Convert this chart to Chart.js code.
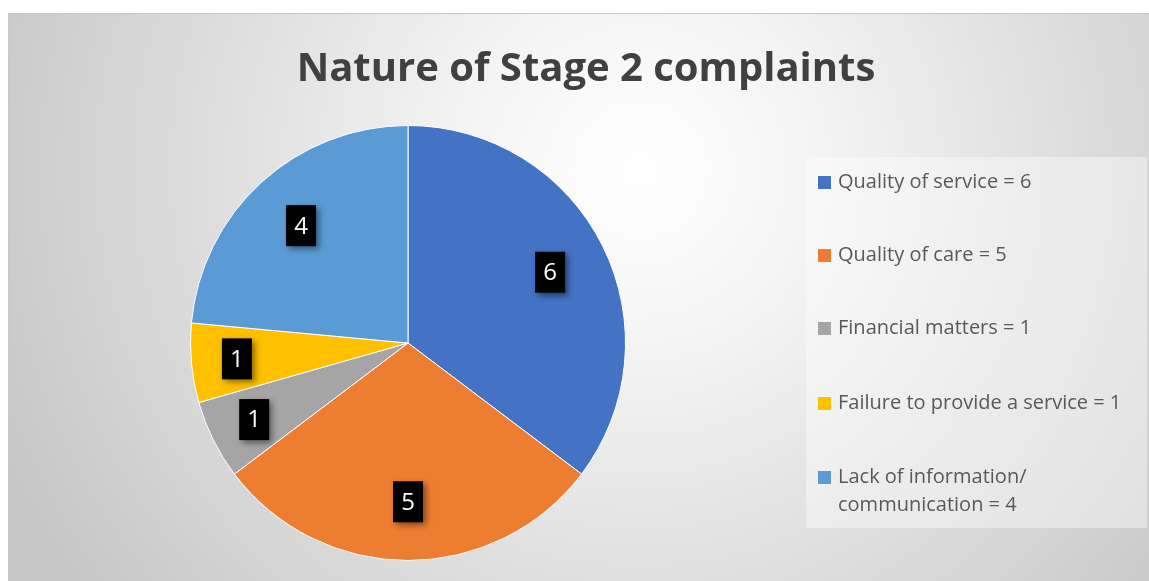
<!DOCTYPE html>
<html>
<head>
<meta charset="utf-8">
<script src="https://cdn.jsdelivr.net/npm/chart.js@4"></script>
<style>
html,body{margin:0;padding:0;background:#fff;}
#wrap{position:relative;width:1149px;height:581px;}
</style>
</head>
<body>
<div id="wrap"><canvas id="c" width="1149" height="581"></canvas></div>
<script>
const titleText = 'Nature of Stage 2 complaints';
const categories = ['Quality of service', 'Quality of care', 'Financial matters', 'Failure to provide a service', 'Lack of information/ communication'];
const legendLines = [['Quality of service = 6'], ['Quality of care = 5'], ['Financial matters = 1'], ['Failure to provide a service = 1'], ['Lack of information/', 'communication = 4']];
const values = [6, 5, 1, 1, 4];
const colors = ['#4472C4', '#ED7D31', '#A5A5A5', '#FFC000', '#5B9BD5'];

const FONT = '"Open Sans", Lato, sans-serif';

const bgPlugin = {
  id: 'bg',
  beforeDraw(chart) {
    const ctx = chart.ctx;
    ctx.save();
    ctx.fillStyle = '#ffffff';
    ctx.fillRect(0, 0, chart.width, chart.height);
    const g = ctx.createRadialGradient(640, 170, 0, 640, 170, 700);
    g.addColorStop(0, '#ffffff');
    g.addColorStop(0.25, '#f4f4f4');
    g.addColorStop(1, '#c6c6c6');
    ctx.fillStyle = g;
    ctx.fillRect(8, 13, chart.width - 8, chart.height - 13);
    ctx.strokeStyle = '#c8c8c8';
    ctx.lineWidth = 1;
    ctx.strokeRect(8.5, 13.5, chart.width, chart.height);
    // title
    ctx.fillStyle = '#404040';
    ctx.font = 'bold 40px ' + FONT;
    ctx.textAlign = 'center';
    ctx.textBaseline = 'alphabetic';
    ctx.fillText(titleText, 586, 81);
    // legend box
    ctx.fillStyle = 'rgba(255,255,255,0.4)';
    ctx.fillRect(806, 157, 341, 371);
    const ys = [182, 255, 328, 403, 477];
    ctx.font = '20px ' + FONT;
    ctx.textAlign = 'left';
    ctx.textBaseline = 'middle';
    legendLines.forEach((lines, i) => {
      ctx.fillStyle = colors[i];
      ctx.fillRect(818, ys[i] - 6, 13, 13);
      ctx.fillStyle = '#595959';
      lines.forEach((t, j) => ctx.fillText(t, 838, ys[i] + j * 28));
    });
    ctx.restore();
  }
};

const labelPlugin = {
  id: 'boxlabels',
  afterDatasetsDraw(chart) {
    const ctx = chart.ctx;
    const meta = chart.getDatasetMeta(0);
    meta.data.forEach((arc, i) => {
      const p = arc.getProps(['x', 'y', 'startAngle', 'endAngle', 'outerRadius'], true);
      const mid = (p.startAngle + p.endAngle) / 2;
      const frac = values[i] <= 1 ? 0.79 : 0.73;
      const cx = p.x + Math.cos(mid) * p.outerRadius * frac;
      const cy = p.y + Math.sin(mid) * p.outerRadius * frac;
      const w = 30, h = 41;
      ctx.save();
      ctx.shadowColor = 'rgba(0,0,0,0.45)';
      ctx.shadowBlur = 6;
      ctx.shadowOffsetX = 3;
      ctx.shadowOffsetY = 3;
      ctx.fillStyle = '#000';
      ctx.fillRect(cx - w / 2, cy - h / 2, w, h);
      ctx.restore();
      ctx.save();
      ctx.fillStyle = '#fff';
      ctx.font = '24px ' + FONT;
      ctx.textAlign = 'center';
      ctx.textBaseline = 'middle';
      ctx.fillText(String(values[i]), cx, cy + 1);
      ctx.restore();
    });
  }
};

new Chart(document.getElementById('c'), {
  type: 'pie',
  data: {
    labels: categories,
    datasets: [{
      data: values,
      backgroundColor: colors,
      borderColor: '#ffffff',
      borderWidth: 1
    }]
  },
  options: {
    responsive: false,
    animation: false,
    layout: { padding: { left: 190, right: 523, top: 125, bottom: 20 } },
    plugins: {
      legend: { display: false },
      tooltip: { enabled: false },
      title: { display: false }
    }
  },
  plugins: [bgPlugin, labelPlugin]
});
</script>
</body>
</html>
